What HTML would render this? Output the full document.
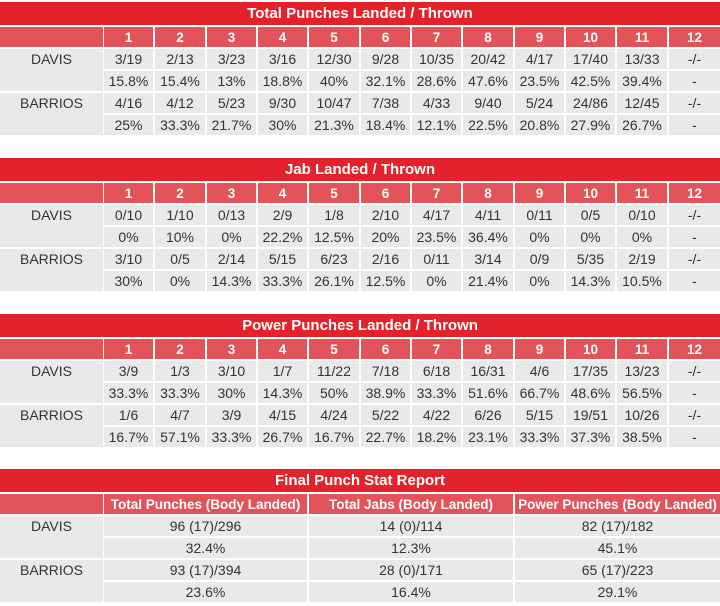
<!DOCTYPE html>
<html><head><meta charset="utf-8"><style>
body{margin:0;width:720px;height:606px;background:#fff;font-family:"Liberation Sans",Arial,sans-serif;position:relative;overflow:hidden}
.c{position:absolute;display:flex;align-items:center;justify-content:center;font-size:14px;color:#333;box-sizing:border-box}
.t{background:#e3222b;color:#fff;font-weight:bold;font-size:15px}
.h{background:#e2545a;color:#fff;font-weight:bold;font-size:13.5px}
.d{background:#e9e9e9}
.l{align-items:flex-start;padding-top:2px}
</style></head><body>
<script>
const rounds=['1','2','3','4','5','6','7','8','9','10','11','12'];
const tables=[
{title:'Total Punches Landed / Thrown',rows:[
['3/19','2/13','3/23','3/16','12/30','9/28','10/35','20/42','4/17','17/40','13/33','-/-'],
['15.8%','15.4%','13%','18.8%','40%','32.1%','28.6%','47.6%','23.5%','42.5%','39.4%','-'],
['4/16','4/12','5/23','9/30','10/47','7/38','4/33','9/40','5/24','24/86','12/45','-/-'],
['25%','33.3%','21.7%','30%','21.3%','18.4%','12.1%','22.5%','20.8%','27.9%','26.7%','-']]},
{title:'Jab Landed / Thrown',rows:[
['0/10','1/10','0/13','2/9','1/8','2/10','4/17','4/11','0/11','0/5','0/10','-/-'],
['0%','10%','0%','22.2%','12.5%','20%','23.5%','36.4%','0%','0%','0%','-'],
['3/10','0/5','2/14','5/15','6/23','2/16','0/11','3/14','0/9','5/35','2/19','-/-'],
['30%','0%','14.3%','33.3%','26.1%','12.5%','0%','21.4%','0%','14.3%','10.5%','-']]},
{title:'Power Punches Landed / Thrown',rows:[
['3/9','1/3','3/10','1/7','11/22','7/18','6/18','16/31','4/6','17/35','13/23','-/-'],
['33.3%','33.3%','30%','14.3%','50%','38.9%','33.3%','51.6%','66.7%','48.6%','56.5%','-'],
['1/6','4/7','3/9','4/15','4/24','5/22','4/22','6/26','5/15','19/51','10/26','-/-'],
['16.7%','57.1%','33.3%','26.7%','16.7%','22.7%','18.2%','23.1%','33.3%','37.3%','38.5%','-']]},
{title:'Final Punch Stat Report',head:['Total Punches (Body Landed)','Total Jabs (Body Landed)','Power Punches (Body Landed)'],rows:[
['96 (17)/296','14 (0)/114','82 (17)/182'],
['32.4%','12.3%','45.1%'],
['93 (17)/394','28 (0)/171','65 (17)/223'],
['23.6%','16.4%','29.1%']]}];
const fighters=['DAVIS','BARRIOS'];
const tops=[2,158,314,469];
function cell(x,y,w,h,cls,txt,name){
 const e=document.createElement('div');
 e.className='c '+cls;
 e.style.left=x+'px';e.style.top=y+'px';e.style.width=w+'px';e.style.height=h+'px';
 e.textContent=txt;
 
 
 document.body.appendChild(e);
}
tables.forEach((t,ti)=>{
 const y0=tops[ti];
 cell(0,y0,720,23,'t',t.title,'table-title');
 const heads=t.head||rounds;
 const n=heads.length;
 const lw=103, cw=(720-lw-1)/n;
 const xs=i=>Math.round(lw+1+i*cw);
 const hy=y0+25;
 cell(0,hy,lw,20,'h','','header-label-cell');
 heads.forEach((hd,i)=>cell(xs(i),hy,xs(i+1)-xs(i)-(i<n-1?2:0),20,'h',hd,'column-header'));
 t.rows.forEach((r,ri)=>{
  const ry=hy+22+ri*22;
  if(ri%2==0) cell(0,ry,lw,42,'d l',fighters[ri/2],'fighter-name');
  r.forEach((v,i)=>cell(xs(i),ry,xs(i+1)-xs(i)-(i<n-1?2:0),20,'d',v,'stat-cell'));
 });
});
</script>
</body></html>
